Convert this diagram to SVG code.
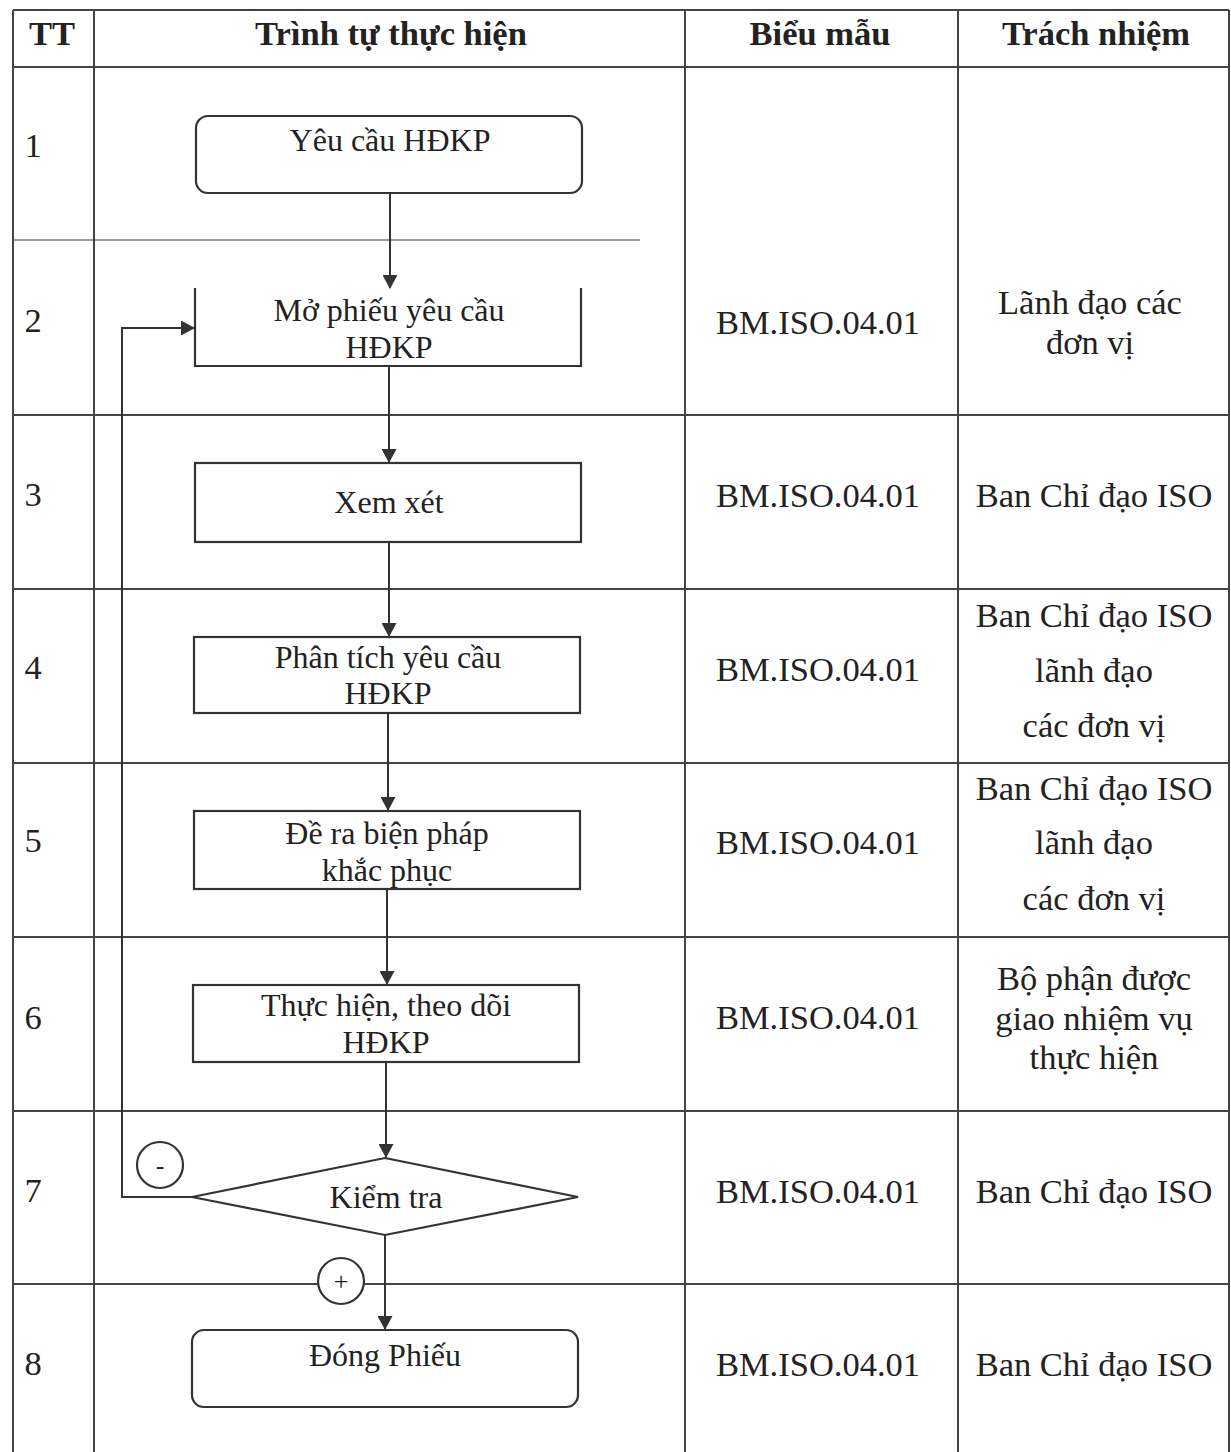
<svg xmlns="http://www.w3.org/2000/svg" width="1231" height="1452" viewBox="0 0 1231 1452">
<defs>
<marker id="arr" markerWidth="14" markerHeight="15" viewBox="0 0 14 15" refX="13" refY="7.5" orient="auto" markerUnits="userSpaceOnUse">
<path d="M0,0 L14,7.5 L0,15 Z" fill="#333"/>
</marker>
<style>
.grid{stroke:#444;stroke-width:2;fill:none}
.faint{stroke:#8f9ba6;stroke-width:2;fill:none}
.box{stroke:#333;stroke-width:2.2;fill:#fff}
.edge{stroke:#333;stroke-width:2;fill:none}
.t{font-family:"Liberation Serif","Times New Roman",serif;font-size:32px;fill:#222}
.c{font-family:"Liberation Serif","Times New Roman",serif;font-size:34.5px;fill:#222}
.h{font-family:"Liberation Serif","Times New Roman",serif;font-size:34.5px;font-weight:bold;fill:#222}
.m{text-anchor:middle}
</style>
</defs>
<rect width="1231" height="1452" fill="#fff"/>
<g id="table">
<line class="grid" x1="13" y1="10" x2="1229" y2="10"/>
<line class="grid" x1="13" y1="67" x2="1229" y2="67"/>
<line class="faint" x1="13" y1="240" x2="640" y2="240"/>
<line class="grid" x1="13" y1="415" x2="1229" y2="415"/>
<line class="grid" x1="13" y1="589" x2="1229" y2="589"/>
<line class="grid" x1="13" y1="763" x2="1229" y2="763"/>
<line class="grid" x1="13" y1="937" x2="1229" y2="937"/>
<line class="grid" x1="13" y1="1111" x2="1229" y2="1111"/>
<line class="grid" x1="13" y1="1284" x2="1229" y2="1284"/>
<line class="grid" x1="13" y1="10" x2="13" y2="1452"/>
<line class="grid" x1="94" y1="10" x2="94" y2="1452"/>
<line class="grid" x1="685" y1="10" x2="685" y2="1452"/>
<line class="grid" x1="958" y1="10" x2="958" y2="1452"/>
<line class="grid" x1="1229" y1="10" x2="1229" y2="1452"/>
<text class="h m" x="52" y="45">TT</text>
<text class="h m" x="391" y="45">Trình tự thực hiện</text>
<text class="h m" x="820" y="45">Biểu mẫu</text>
<text class="h m" x="1096" y="45">Trách nhiệm</text>
<text class="c m" x="33" y="157">1</text>
<text class="c m" x="33" y="332">2</text>
<text class="c m" x="33" y="506">3</text>
<text class="c m" x="33" y="679">4</text>
<text class="c m" x="33" y="852">5</text>
<text class="c m" x="33" y="1029">6</text>
<text class="c m" x="33" y="1202">7</text>
<text class="c m" x="33" y="1375">8</text>
<text class="c m" x="818" y="334">BM.ISO.04.01</text>
<text class="c m" x="818" y="507">BM.ISO.04.01</text>
<text class="c m" x="818" y="681">BM.ISO.04.01</text>
<text class="c m" x="818" y="854">BM.ISO.04.01</text>
<text class="c m" x="818" y="1029">BM.ISO.04.01</text>
<text class="c m" x="818" y="1203">BM.ISO.04.01</text>
<text class="c m" x="818" y="1376">BM.ISO.04.01</text>
<text class="c m" x="1090" y="314">Lãnh đạo các</text>
<text class="c m" x="1090" y="354">đơn vị</text>
<text class="c m" x="1094" y="507">Ban Chỉ đạo ISO</text>
<text class="c m" x="1094" y="627">Ban Chỉ đạo ISO</text>
<text class="c m" x="1094" y="682">lãnh đạo</text>
<text class="c m" x="1094" y="737">các đơn vị</text>
<text class="c m" x="1094" y="800">Ban Chỉ đạo ISO</text>
<text class="c m" x="1094" y="854">lãnh đạo</text>
<text class="c m" x="1094" y="910">các đơn vị</text>
<text class="c m" x="1094" y="990">Bộ phận được</text>
<text class="c m" x="1094" y="1030">giao nhiệm vụ</text>
<text class="c m" x="1094" y="1069">thực hiện</text>
<text class="c m" x="1094" y="1203">Ban Chỉ đạo ISO</text>
<text class="c m" x="1094" y="1376">Ban Chỉ đạo ISO</text>
</g>
<g id="connectors">
<line class="edge" x1="390" y1="193" x2="390" y2="288" marker-end="url(#arr)"/>
<line class="edge" x1="389" y1="366" x2="389" y2="462" marker-end="url(#arr)"/>
<line class="edge" x1="389" y1="542" x2="389" y2="636" marker-end="url(#arr)"/>
<line class="edge" x1="388" y1="713" x2="388" y2="810" marker-end="url(#arr)"/>
<line class="edge" x1="387" y1="889" x2="387" y2="984" marker-end="url(#arr)"/>
<line class="edge" x1="386" y1="1062" x2="386" y2="1157" marker-end="url(#arr)"/>
<line class="edge" x1="385" y1="1235" x2="385" y2="1329" marker-end="url(#arr)"/>
<polyline class="edge" points="192,1197 122,1197 122,328 194,328" marker-end="url(#arr)"/>
</g>
<g id="n1">
<rect class="box" x="196" y="116" width="386" height="77" rx="12"/>
<text class="t m" x="390" y="151">Yêu cầu HĐKP</text>
</g>
<g id="n2">
<path class="edge" d="M195,288 L195,366 L581,366 L581,288" style="stroke-width:2.2"/>
<text class="t m" x="389" y="321">Mở phiếu yêu cầu</text>
<text class="t m" x="389" y="358">HĐKP</text>
</g>
<g id="n3">
<rect class="box" x="195" y="463" width="386" height="79"/>
<text class="t m" x="389" y="513">Xem xét</text>
</g>
<g id="n4">
<rect class="box" x="194" y="637" width="386" height="76"/>
<text class="t m" x="388" y="668">Phân tích yêu cầu</text>
<text class="t m" x="388" y="704">HĐKP</text>
</g>
<g id="n5">
<rect class="box" x="194" y="811" width="386" height="78"/>
<text class="t m" x="387" y="844">Đề ra biện pháp</text>
<text class="t m" x="387" y="881">khắc phục</text>
</g>
<g id="n6">
<rect class="box" x="193" y="985" width="386" height="77"/>
<text class="t m" x="386" y="1016">Thực hiện, theo dõi</text>
<text class="t m" x="386" y="1053">HĐKP</text>
</g>
<g id="n7">
<polygon class="box" points="385,1158 578,1197 385,1235 192,1197"/>
<text class="t m" x="386" y="1208">Kiểm tra</text>
</g>
<g id="n8">
<rect class="box" x="192" y="1330" width="386" height="77" rx="12"/>
<text class="t m" x="385" y="1366">Đóng Phiếu</text>
</g>
<g id="minus">
<circle class="box" cx="160" cy="1165" r="23"/>
<text class="t m" x="160" y="1174" style="font-size:26px">-</text>
</g>
<g id="plus">
<circle class="box" cx="341" cy="1281" r="23"/>
<text class="t m" x="341" y="1290" style="font-size:26px">+</text>
</g>
</svg>
